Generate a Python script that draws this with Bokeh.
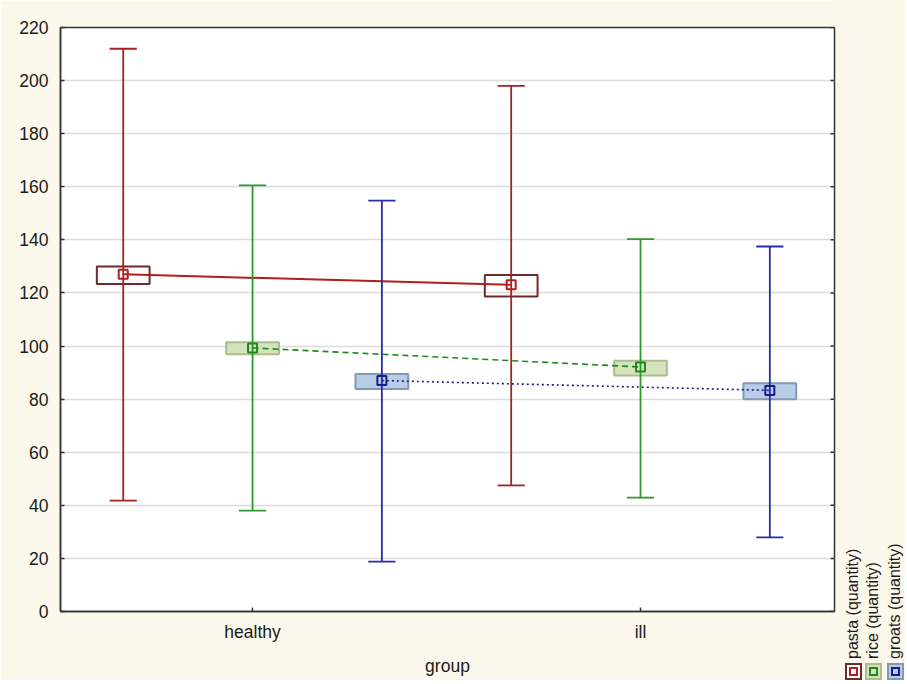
from bokeh.plotting import figure
from bokeh.layouts import row
from bokeh.models import Range1d, FixedTicker, ColumnDataSource, Div
from bokeh.embed import file_html
from bokeh.resources import INLINE

# ---------------- data ----------------
groups = ["healthy", "ill"]
series = ["pasta (quantity)", "rice (quantity)", "groats (quantity)"]

pasta_mean = [127.0, 123.1]
pasta_box_low = [123.4, 118.7]
pasta_box_high = [130.0, 126.8]
pasta_whisker_low = [41.8, 47.5]
pasta_whisker_high = [212.0, 198.0]

rice_mean = [99.3, 92.1]
rice_box_low = [96.9, 88.9]
rice_box_high = [101.4, 94.5]
rice_whisker_low = [38.0, 42.9]
rice_whisker_high = [160.5, 140.3]

groats_mean = [87.0, 83.3]
groats_box_low = [83.8, 80.0]
groats_box_high = [89.5, 86.0]
groats_whisker_low = [18.8, 27.9]
groats_whisker_high = [154.8, 137.5]

y_ticks = list(range(0, 221, 20))

# ---------------- styles ----------------
BG = "#fdf8ec"
FONT = "Liberation Sans"
styles = [
    dict(whisker="#a32323", mean="#b01e1e", box_fill="white", box_line="#6e2b2b", dash="solid", lw=2.0),
    dict(whisker="#2f9a2f", mean="#1d8a1d", box_fill="#d5e3bc", box_line="#a9bd8f", dash="6 4", lw=1.6),
    dict(whisker="#2a2aad", mean="#1a1a8c", box_fill="#b9cde5", box_line="#8099bb", dash="2 3", lw=1.6),
]
offsets = [-1 / 3, 0.0, 1 / 3]
box_w = 0.136
cap_w = 0.07

data = [
    (pasta_mean, pasta_box_low, pasta_box_high, pasta_whisker_low, pasta_whisker_high),
    (rice_mean, rice_box_low, rice_box_high, rice_whisker_low, rice_whisker_high),
    (groats_mean, groats_box_low, groats_box_high, groats_whisker_low, groats_whisker_high),
]

X0, X1 = -0.495, 1.5
Y0, Y1 = 0, 220
MAIN_W, H = 836, 680
FRAME_W = MAIN_W - 60 - 2

p = figure(width=MAIN_W, height=H, output_backend="svg", toolbar_location=None,
           x_range=Range1d(X0, X1), y_range=Range1d(Y0, Y1),
           min_border_left=60, min_border_top=27, min_border_bottom=69, min_border_right=2)
p.border_fill_color = BG
p.background_fill_color = "white"
p.outline_line_color = "#333333"
p.outline_line_width = 1.5
p.xgrid.visible = False
p.ygrid.grid_line_color = "#dcdcdc"
p.ygrid.grid_line_width = 1.5
p.ygrid.ticker = FixedTicker(ticks=y_ticks)

# axes
p.yaxis.ticker = FixedTicker(ticks=y_ticks)
p.xaxis.ticker = FixedTicker(ticks=list(range(len(groups))))
p.xaxis.major_label_overrides = {i: g for i, g in enumerate(groups)}
p.xaxis.axis_label = "group"
for ax in (p.xaxis[0], p.yaxis[0]):
    ax.major_tick_in = 4
    ax.major_tick_out = 0
    ax.minor_tick_line_color = None
    ax.axis_line_color = "#333333"
    ax.axis_line_width = 1.5
    ax.major_tick_line_color = "#333333"
    ax.major_tick_line_width = 1.5
    ax.major_label_text_font = FONT
    ax.major_label_text_font_size = "17.5px"
    ax.major_label_text_color = "#1a1a1a"
p.yaxis.major_label_standoff = 12
p.xaxis.major_label_standoff = 10
p.xaxis.axis_label_text_font = FONT
p.xaxis.axis_label_text_font_size = "17.5px"
p.xaxis.axis_label_text_font_style = "normal"
p.xaxis.axis_label_text_color = "#1a1a1a"
p.xaxis.axis_label_standoff = 11

# inner tick marks on the right frame edge (4 px long)
tick_len = 4 * (X1 - X0) / FRAME_W
p.segment(x0=[X1 - tick_len] * len(y_ticks), y0=y_ticks, x1=[X1] * len(y_ticks), y1=y_ticks,
          line_color="#333333", line_width=1.5)

# glyphs
for k, (mean, blo, bhi, wlo, whi) in enumerate(data):
    st = styles[k]
    xs = [i + offsets[k] for i in range(len(groups))]
    src = ColumnDataSource(dict(x=xs, mean=mean, blo=blo, bhi=bhi, wlo=wlo, whi=whi,
                                cl=[x - cap_w / 2 for x in xs], cr=[x + cap_w / 2 for x in xs]))
    p.vbar(x="x", width=box_w, bottom="blo", top="bhi", source=src,
           fill_color=st["box_fill"], fill_alpha=0.0 if k == 0 else 1.0,
           line_color=st["box_line"], line_width=2)
    p.segment(x0="x", y0="wlo", x1="x", y1="whi", source=src, line_color=st["whisker"], line_width=1.8)
    p.segment(x0="cl", y0="whi", x1="cr", y1="whi", source=src, line_color=st["whisker"], line_width=1.8)
    p.segment(x0="cl", y0="wlo", x1="cr", y1="wlo", source=src, line_color=st["whisker"], line_width=1.8)
    p.line(x="x", y="mean", source=src, line_color=st["mean"], line_width=st["lw"], line_dash=st["dash"])
    p.scatter(x="x", y="mean", source=src, marker="square", size=9, fill_color=None,
              line_color=st["mean"], line_width=2)

# ---------------- legend panel (vertical texts + swatches) as HTML ----------------
LEG_W = 69
leg_cx = [17, 37, 59]      # column centres inside the legend panel
text_bottom = 659
sw_cy = 671
sw = 17
mk = 9
parts = []
for k, name in enumerate(series):
    st = styles[k]
    parts.append(
        f'<div style="position:absolute;left:{leg_cx[k] - 9}px;top:{text_bottom}px;'
        f'transform:rotate(-90deg);transform-origin:left top;white-space:nowrap;'
        f'font-family:\'{FONT}\';font-size:16px;line-height:18px;color:#1a1a1a;">{name}</div>')
    parts.append(
        f'<div style="position:absolute;box-sizing:border-box;left:{leg_cx[k] - sw // 2}px;'
        f'top:{sw_cy - sw // 2}px;width:{sw}px;height:{sw}px;border:2px solid {st["box_line"]};'
        f'background:{st["box_fill"]};"></div>')
    parts.append(
        f'<div style="position:absolute;box-sizing:border-box;left:{leg_cx[k] - mk // 2}px;'
        f'top:{sw_cy - mk // 2}px;width:{mk}px;height:{mk}px;border:2px solid {st["mean"]};"></div>')
html = (f'<div style="position:relative;width:{LEG_W}px;height:{H}px;background:{BG};'
        f'overflow:hidden;">' + "".join(parts) + "</div>")
legend = Div(text=html, width=LEG_W, height=H, margin=0)

layout = row(p, legend, spacing=0)
open("out.html", "w").write(file_html(layout, INLINE))
